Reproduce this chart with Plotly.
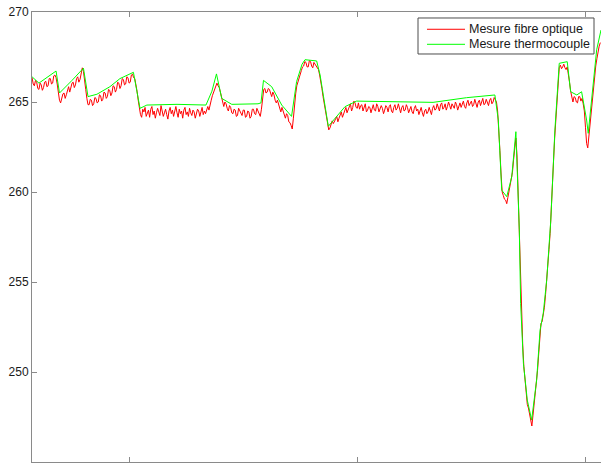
import numpy as np
import plotly.graph_objects as go

# Fibre-optic probe: sampled every 5 s starting at t = 574 s
fibre_t0 = 574
fibre_dt = 5
fibre_temp = [
    # 574 s
    266.35, 266.0, 265.9, 266.2, 266.1, 265.75, 265.7, 266.05, 265.95, 265.65,
    265.8, 266.1, 266.15, 265.85, 265.9, 266.3, 266.3, 266.0, 266.05, 266.45,
    266.5, 266.35, 266.0, 265.5, 265.1, 264.95, 265.25, 265.45, 265.5, 265.2,
    265.4, 265.7, 265.85, 265.55, 265.75, 266.05, 266.1, 265.8, 265.95, 266.3,
    266.4, 266.1, 266.25, 266.6, 266.9, 266.7, 266.3, 265.7, 265.2, 264.85,
    # 824 s
    264.85, 265.15, 265.1, 264.8, 264.9, 265.25, 265.2, 264.95, 265.0, 265.4,
    265.35, 265.05, 265.15, 265.55, 265.5, 265.2, 265.3, 265.7, 265.65, 265.35,
    265.5, 265.9, 265.85, 265.55, 265.7, 266.1, 266.05, 265.75, 265.9, 266.3,
    266.25, 265.95, 266.0, 266.4, 266.35, 266.05, 266.1, 266.5, 266.55, 266.35,
    266.3, 266.0, 265.6, 265.1, 264.6, 264.3, 264.15, 264.6, 264.45, 264.7,
    # 1074 s
    264.2, 264.35, 264.55, 264.15, 264.6, 264.75, 264.3, 264.5, 264.1, 264.4,
    264.65, 264.45, 264.25, 264.8, 264.5, 264.2, 264.4, 264.6, 264.3, 264.05,
    264.5, 264.7, 264.35, 264.55, 264.2, 264.45, 264.75, 264.4, 264.15, 264.6,
    264.35, 264.5, 264.1, 264.55, 264.7, 264.3, 264.45, 264.2, 264.65, 264.4,
    264.25, 264.55, 264.45, 264.1, 264.35, 264.6, 264.5, 264.2, 264.45, 264.7,
    # 1324 s
    264.3, 264.5, 264.35, 264.6, 264.75, 264.55, 264.95, 265.1, 265.35, 265.55,
    265.7, 265.95, 266.05, 265.9, 265.8, 265.55, 265.3, 265.1, 264.75, 265.0,
    264.9, 264.65, 264.5, 264.8, 264.7, 264.4, 264.35, 264.6, 264.55, 264.2,
    264.25, 264.65, 264.5, 264.3, 264.25, 264.55, 264.55, 264.15, 264.2, 264.5,
    264.45, 264.1, 264.2, 264.6, 264.6, 264.35, 264.3, 264.65, 264.5, 264.25,
    # 1574 s
    264.2, 264.6, 265.3, 265.7, 265.75, 265.5, 265.55, 265.75, 265.7, 265.4,
    265.3, 265.55, 265.4, 265.1, 264.95, 265.1, 264.85, 264.55, 264.45, 264.7,
    264.5, 264.2, 264.1, 264.35, 264.25, 263.9, 263.85, 263.7, 263.5, 264.1,
    264.9, 265.45, 265.9, 266.15, 266.3, 266.6, 266.75, 266.95, 267.0, 267.25,
    267.2, 266.95, 266.95, 267.3, 267.25, 267.0, 266.9, 267.2, 267.1, 266.95,
    # 1824 s
    266.85, 266.8, 266.5, 266.2, 265.75, 265.3, 264.9, 264.45, 264.0, 263.7,
    263.45, 263.55, 263.7, 263.95, 263.8, 263.9, 264.05, 264.2, 263.9, 264.1,
    264.3, 264.45, 264.15, 264.35, 264.6, 264.7, 264.4, 264.55, 264.75, 264.9,
    # 1974 s
    264.5, 264.7, 265.05, 264.95, 264.7, 264.65, 264.95,
    # 2009 s
    264.6, 264.8, 264.85, 264.5, 264.65, 264.9, 264.45, 264.55, 264.75, 264.7,
    264.4, 264.6, 264.85, 264.55, 264.5, 264.9, 264.75, 264.45, 264.6, 264.8,
    264.65, 264.35, 264.55, 264.8, 264.7, 264.45, 264.75, 264.85, 264.5, 264.4,
    264.7, 264.85, 264.55, 264.65, 264.9, 264.6, 264.4, 264.7, 264.8, 264.5,
    264.55, 264.85, 264.7, 264.4, 264.6, 264.75, 264.45, 264.35, 264.65, 264.8,
    # 2259 s
    264.5, 264.6, 264.3, 264.55, 264.7, 264.4, 264.2, 264.5, 264.6, 264.35,
    264.45, 264.7, 264.5, 264.3, 264.65, 264.8, 264.55, 264.6, 264.9, 264.7,
    264.5, 264.85, 264.95, 264.6, 264.7, 264.9, 264.55, 264.75, 265.0, 264.8,
    264.6, 264.9, 264.75, 264.65, 265.0, 264.85, 264.55, 264.8, 264.95, 264.7,
    264.85, 265.05, 264.75, 264.65, 264.95, 265.1, 264.8, 264.9, 265.05, 264.75,
    # 2509 s
    264.85, 265.15, 264.95, 264.7, 265.0, 265.1, 264.8, 265.05, 265.2, 264.85,
    264.9, 265.15, 264.95, 264.8, 265.1, 265.2, 264.9, 265.0, 265.25,
    # 2604 s
    265.1, 265.0, 264.5, 263.6, 262.3, 261.0, 260.0, 259.8, 259.6, 259.55,
    259.35, 259.7, 260.0, 260.3, 260.6, 261.1, 261.8, 262.5, 263.0, 262.0,
    260.0, 257.6, 255.0, 253.2, 251.5, 250.3, 249.5, 248.9, 248.2, 248.0,
    247.7, 247.3, 247.0, 247.6, 248.2, 248.7, 249.3, 250.1, 251.0, 251.9,
    252.7, 252.8, 253.1, 253.6, 254.3, 255.0, 256.0, 256.8, 257.7, 258.8,
    # 2854 s
    260.2, 261.7, 263.0, 264.1, 265.0, 266.1, 266.9, 267.05, 266.85, 266.95,
    267.1, 266.9, 266.8, 266.95, 266.6, 266.1, 265.6, 265.2, 265.0, 265.3,
    265.25, 265.0, 264.95, 265.3, 265.3, 265.05, 265.2, 264.9, 264.5, 263.6,
    262.7, 262.45, 263.1, 263.9, 264.6, 265.3, 265.9, 266.5, 267.0, 267.4,
    267.8, 268.1, 268.3,
]
fibre_time = fibre_t0 + fibre_dt * np.arange(len(fibre_temp))

# Thermocouple readings (s, °C)
thermo_time = [
    574, 604, 679, 694, 749, 799, 819, 858, 915, 959, 1018, 1047, 1077, 1209,
    1336, 1362, 1382, 1405, 1449, 1564, 1577, 1588, 1624, 1668, 1711, 1733,
    1757, 1770, 1821, 1836, 1872, 1901, 1945, 1996, 2331, 2478, 2602, 2617,
    2632, 2654, 2676, 2694, 2709, 2715, 2727, 2744, 2763, 2785, 2800, 2814,
    2829, 2847, 2865, 2884, 2919, 2934, 2961, 2982, 3004, 3011, 3033, 3048,
    3067,
]
thermo_temp = [
    266.40, 266.05, 266.72, 265.50, 266.20, 266.88, 265.30, 265.43, 265.85,
    266.30, 266.65, 264.65, 264.83, 264.87, 264.83, 265.60, 266.56, 265.20,
    264.87, 264.90, 264.95, 266.20, 265.85, 264.83, 264.20, 266.13, 267.10,
    267.35, 267.28, 266.50, 263.65, 264.10, 264.74, 265.05, 264.98, 265.24,
    265.39, 264.00, 260.10, 259.74, 260.85, 263.35, 257.90, 253.80, 250.48,
    248.44, 247.33, 249.56, 252.33, 253.26, 255.10, 258.44, 263.44, 267.15,
    267.24, 265.57, 265.39, 265.57, 264.00, 263.26, 266.22, 267.90, 269.00,
]

series_names = ["Mesure fibre optique", "Mesure thermocouple"]
series_colors = ["#ff0000", "#00ff00"]

x_range = [573.6, 3067]
y_range = [245, 270]
x_ticks = [1000, 2000, 3000]
y_ticks = [245, 250, 255, 260, 265, 270]

axis_grey = "#8a8a8a"
text_color = "#1a1a1a"
font = "Liberation Sans, Arial, sans-serif"

fig = go.Figure()
fig.add_trace(go.Scatter(
    x=fibre_time, y=fibre_temp, mode="lines", name=series_names[0],
    line=dict(color=series_colors[0], width=1),
))
fig.add_trace(go.Scatter(
    x=thermo_time, y=thermo_temp, mode="lines", name=series_names[1],
    line=dict(color=series_colors[1], width=1),
))

# Boxed legend in the upper-right corner (paper coordinates)
box = dict(x0=0.6784, x1=0.9877, y0=0.9067, y1=0.9867)
row_y = [0.9616, 0.9282]
sample_x = [0.6942, 0.7610]
label_x = 0.7645

shapes = [dict(
    type="rect", xref="paper", yref="paper", layer="above",
    line=dict(color="#4d4d4d", width=1), fillcolor="white", **box,
)]
annotations = []
for name, color, yy in zip(series_names, series_colors, row_y):
    shapes.append(dict(
        type="line", xref="paper", yref="paper", layer="above",
        x0=sample_x[0], x1=sample_x[1], y0=yy, y1=yy,
        line=dict(color=color, width=1),
    ))
    annotations.append(dict(
        xref="paper", yref="paper", x=label_x, y=yy,
        xanchor="left", yanchor="middle", showarrow=False, text=name,
        font=dict(family=font, size=12.5, color=text_color),
    ))

fig.update_layout(
    width=601, height=468,
    margin=dict(l=32, r=0, t=12, b=6),
    paper_bgcolor="white", plot_bgcolor="white",
    font=dict(family=font, size=12, color=text_color),
    showlegend=False,
    shapes=shapes,
    annotations=annotations,
    xaxis=dict(
        range=x_range, tickvals=x_ticks, showticklabels=False,
        ticks="inside", ticklen=5, tickcolor=axis_grey,
        showline=True, linecolor=axis_grey, linewidth=1, mirror="ticks",
        showgrid=False, zeroline=False,
    ),
    yaxis=dict(
        range=y_range, tickvals=y_ticks,
        ticks="inside", ticklen=5, tickcolor=axis_grey,
        showline=True, linecolor=axis_grey, linewidth=1, mirror=False,
        showgrid=False, zeroline=False,
        tickfont=dict(family=font, size=12, color=text_color),
    ),
    yaxis2=dict(
        range=y_range, tickvals=y_ticks, overlaying="y", side="right",
        anchor="x", showticklabels=False, showline=False,
        ticks="inside", ticklen=5, tickcolor=axis_grey,
        showgrid=False, zeroline=False,
    ),
)

fig.write_html("out.html")
